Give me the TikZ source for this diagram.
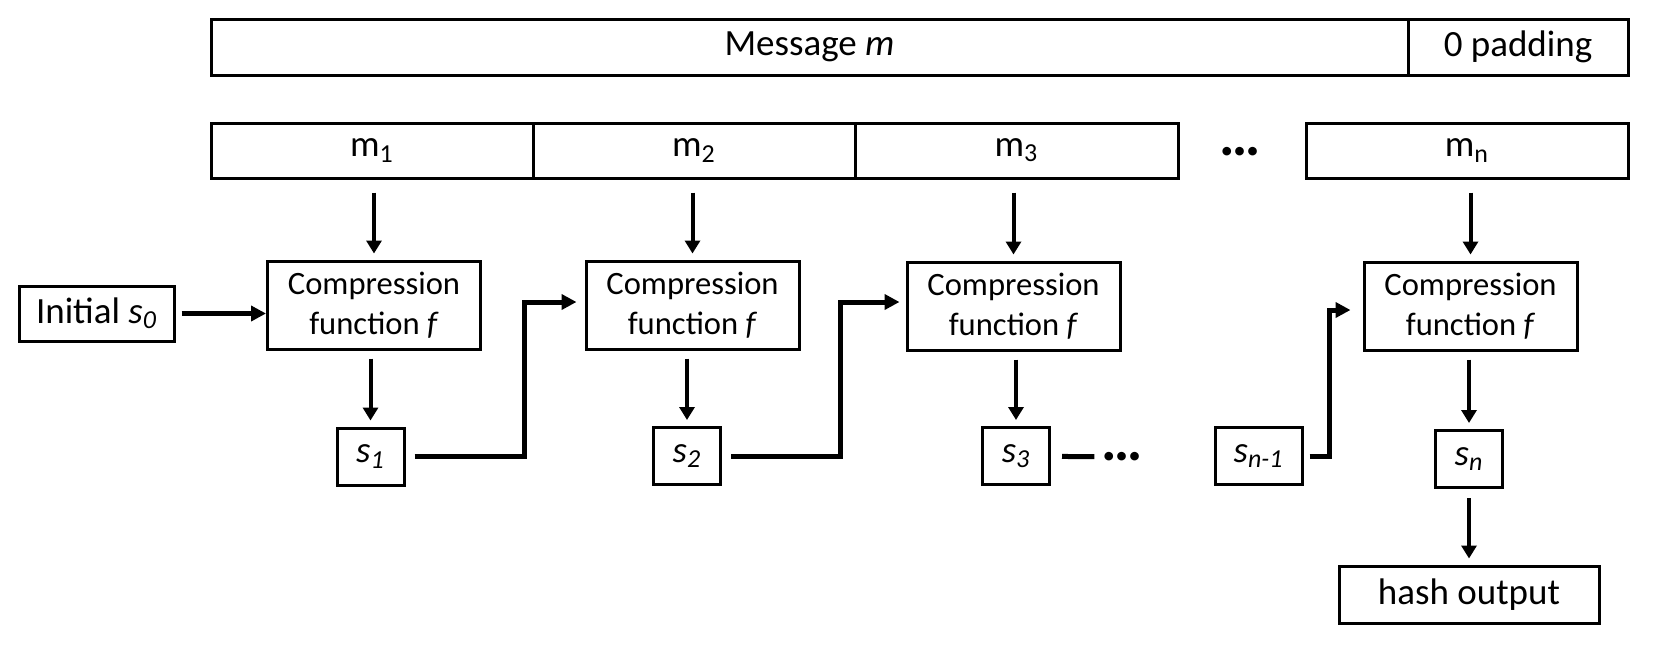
\documentclass[tikz,border=0pt]{standalone}
\usepackage{fontspec}
\setmainfont{Carlito}
\usetikzlibrary{arrows.meta}

\tikzset{
  blk/.style={shape=rectangle,draw=black,line width=1.5pt,inner sep=0pt,font=\fontsize{18.5}{22}\selectfont},
  cmp/.style={blk,minimum width=106.5pt,minimum height=44pt,align=center,font=\fontsize{16.3}{20}\selectfont},
  sbox/.style={blk,minimum width=33.5pt,minimum height=28.5pt},
  arrthin/.style={line width=2pt,-{Triangle[length=6.5pt,width=7.5pt]}},
  arrthick/.style={line width=2.5pt,-{Triangle[length=7.5pt,width=7.5pt]}},
  dotsfont/.style={font=\fontsize{29}{32}\selectfont\bfseries},
}

\begin{document}
\begin{tikzpicture}[x=0.5pt,y=-0.5pt]
      \useasboundingbox (0,0) rectangle (1664,654);

      \node[blk,minimum width=598.5pt,minimum height=28pt] (M) at (809.5,47) {Message \textit{m}};
      \node[blk,minimum width=110pt,minimum height=28pt] (P) at (1518,47) {0 padding};

      \node[blk,minimum width=161pt,minimum height=27.5pt] (m1) at (372,150.5) {m\textsubscript{1}};
      \node[blk,minimum width=161pt,minimum height=27.5pt] (m2) at (694,150.5) {m\textsubscript{2}};
      \node[blk,minimum width=161.5pt,minimum height=27.5pt] (m3) at (1016.5,150.5) {m\textsubscript{3}};
      \node[dotsfont] (MD) at (1240,152) {\textellipsis};
      \node[blk,minimum width=161pt,minimum height=27.5pt] (mn) at (1467,150.5) {m\textsubscript{n}};

      \node[blk,minimum width=77.5pt,minimum height=27.5pt] (I) at (96.5,313.5) {Initial \textit{s\textsubscript{0}}};

      \node[cmp] (c1) at (374,305) {Compression\\function \textit{f}};
      \node[cmp] (c2) at (692.5,305) {Compression\\function \textit{f}};
      \node[cmp] (c3) at (1013.5,306) {Compression\\function \textit{f}};
      \node[cmp] (c4) at (1470.5,306) {Compression\\function \textit{f}};

      \node[sbox] (s1) at (370.5,456.5) {\textit{s\textsubscript{1}}};
      \node[sbox] (s2) at (687,456) {\textit{s\textsubscript{2}}};
      \node[sbox] (s3) at (1016,456) {\textit{s\textsubscript{3}}};
      \node[dotsfont] (SD) at (1122,457) {\textellipsis};
      \node[sbox,minimum width=43.5pt] (sn1) at (1258.5,456) {\textit{s\textsubscript{n-1}}};
      \node[sbox] (sn) at (1469,459) {\textit{s\textsubscript{n}}};

      \node[blk,minimum width=130pt,minimum height=28.5pt] (H) at (1469,594.5) {hash output};

      \coordinate (k1) at (524,302);
      \coordinate (k2) at (840,302);
      \coordinate (k3) at (1329,310);

      \draw[arrthin,shorten <=6.5pt,shorten >=3pt] (m1.south -| c1) -- (c1);
      \draw[arrthin,shorten <=6.5pt,shorten >=3pt] (m2.south -| c2) -- (c2);
      \draw[arrthin,shorten <=6.5pt,shorten >=3pt] (m3.south -| c3) -- (c3);
      \draw[arrthin,shorten <=6.5pt,shorten >=3pt] (mn.south -| c4) -- (c4);

      \draw[arrthin,shorten <=4pt,shorten >=3pt] (c1.south -| s1) -- (s1);
      \draw[arrthin,shorten <=4pt,shorten >=3pt] (c2.south -| s2) -- (s2);
      \draw[arrthin,shorten <=4pt,shorten >=3pt] (c3.south -| s3) -- (s3);
      \draw[arrthin,shorten <=4pt,shorten >=3pt] (c4.south -| sn) -- (sn);
      \draw[arrthin,shorten <=4.5pt,shorten >=3pt] (sn) -- (H);

      \draw[arrthick,shorten <=3pt] (I) -- (I -| c1.west);
      \draw[arrthick,shorten <=4.5pt,shorten >=4pt] (s1) -| (k1) -- (c2.west |- k1);
      \draw[arrthick,shorten <=4.5pt,shorten >=3pt] (s2) -| (k2) -- (c3.west |- k2);
      \draw[line width=2.5pt,shorten <=5.5pt] (s3) -- (SD);
      \draw[arrthick,shorten <=3pt,shorten >=6pt] (sn1) -| (k3) -- (c4.west |- k3);
\end{tikzpicture}
\end{document}
